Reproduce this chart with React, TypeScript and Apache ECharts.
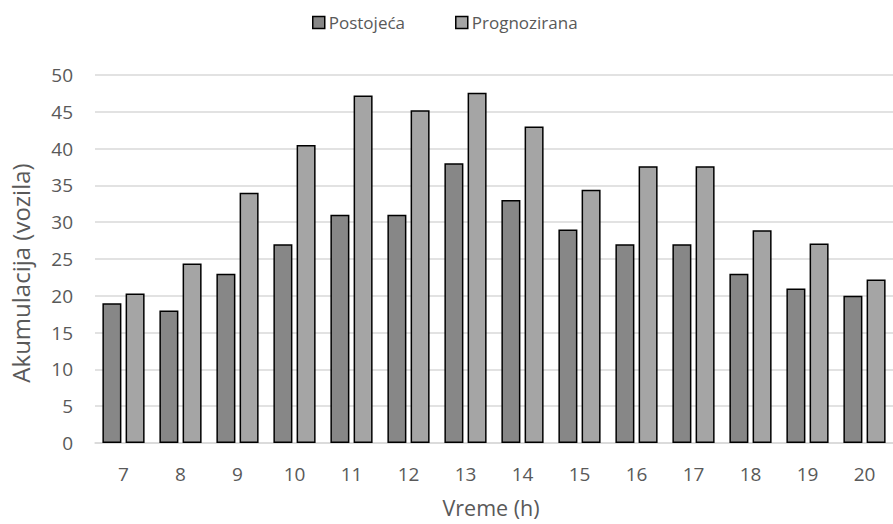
import React, { useEffect, useRef } from "react";
import * as echarts from "echarts";

const categories = ["7", "8", "9", "10", "11", "12", "13", "14", "15", "16", "17", "18", "19", "20"];
const postojeca = [19, 18, 23, 27, 31, 31, 38, 33, 29, 27, 27, 23, 21, 20];
const prognozirana = [20.3, 24.4, 34, 40.5, 47.2, 45.2, 47.6, 43, 34.4, 37.6, 37.6, 28.9, 27.1, 22.2];
const seriesNames = ["Postojeća", "Prognozirana"];

const FONT = "'Open Sans', 'Noto Sans', sans-serif";
const TEXT = "#595959";

export default function App() {
  const ref = useRef<HTMLDivElement>(null);
  useEffect(() => {
    if (!ref.current) return;
    const chart = echarts.init(ref.current, undefined, { renderer: "svg" });
    chart.setOption({
      animation: false,
      backgroundColor: "#ffffff",
      textStyle: { fontFamily: FONT },
      legend: {
        top: 9,
        left: 307,
        icon: "rect",
        itemWidth: 12,
        itemHeight: 12,
        itemGap: 50,
        itemStyle: { borderColor: "#000000", borderWidth: 1.5 },
        textStyle: { color: TEXT, fontSize: 17, fontFamily: FONT, padding: [0, 0, 0, -1] },
        data: seriesNames,
      },
      grid: { left: 93, top: 75, width: 806, bottom: 81, containLabel: false },
      xAxis: {
        type: "category",
        data: categories,
        name: "Vreme (h)",
        nameLocation: "middle",
        nameGap: 53,
        nameTextStyle: { color: TEXT, fontSize: 21.5, fontFamily: FONT, padding: [0, 6, 0, 0] },
        axisLine: { lineStyle: { color: "#d9d9d9", width: 1.5 } },
        axisTick: { show: false },
        axisLabel: { color: TEXT, fontSize: 19, margin: 21, fontFamily: FONT },
      },
      yAxis: {
        type: "value",
        min: 0,
        max: 50,
        interval: 5,
        name: "Akumulacija (vozila)",
        nameLocation: "middle",
        nameGap: 63,
        nameTextStyle: { color: TEXT, fontSize: 24, fontFamily: FONT, padding: [0, 28, 0, 0] },
        axisLine: { show: false },
        axisTick: { show: false },
        axisLabel: { color: TEXT, fontSize: 19, margin: 22, fontFamily: FONT },
        splitLine: { lineStyle: { color: "#d9d9d9", width: 1.5 } },
      },
      series: [
        {
          name: seriesNames[0],
          type: "bar",
          data: postojeca,
          barWidth: 19,
          barGap: "22%",
          itemStyle: { color: "#878787", borderColor: "#000000", borderWidth: 1.5 },
        },
        {
          name: seriesNames[1],
          type: "bar",
          data: prognozirana,
          barWidth: 19,
          barGap: "22%",
          itemStyle: { color: "#a5a5a5", borderColor: "#000000", borderWidth: 1.5 },
        },
      ],
    });
    return () => chart.dispose();
  }, []);
  return (
    <div
      ref={ref}
      style={{ position: "fixed", left: 0, top: 0, width: 893, height: 524, overflow: "hidden" }}
    />
  );
}
